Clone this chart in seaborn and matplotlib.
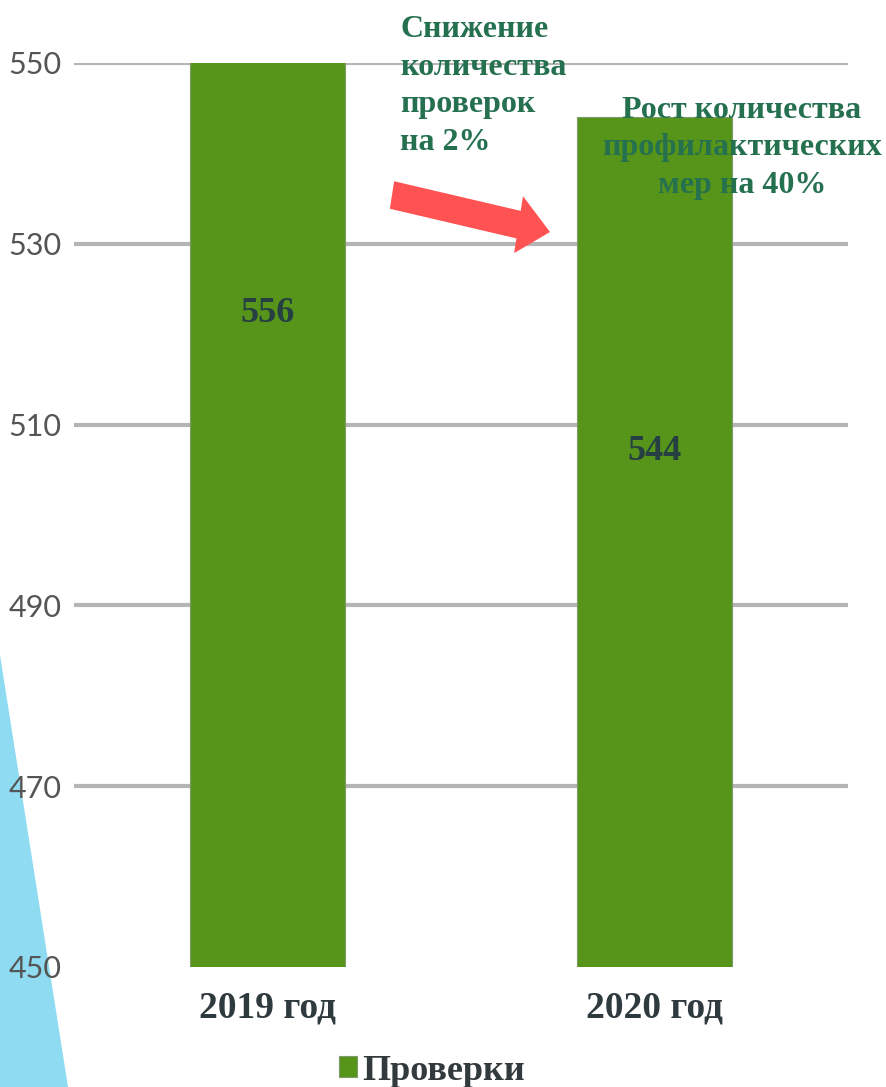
import matplotlib
matplotlib.use("Agg")
import matplotlib.pyplot as plt
from matplotlib.patches import Polygon, FancyArrow
import seaborn as sns
import pandas as pd

# ===============================
# Data
# ===============================
years = ["2019 год", "2020 год"]
checks = [556, 544]
label_y = [522.3, 507.0]
series_name = "Проверки"
y_ticks = [450, 470, 490, 510, 530, 550]

note_left = "Снижение\nколичества\nпроверок\nна 2%"
note_right = "Рост количества\nпрофилактических\nмер на 40%"

df = pd.DataFrame({"year": years, "checks": checks})

# ===============================
# Style
# ===============================
sns.set_style("white")
plt.rcParams['font.family'] = ['Lato', 'DejaVu Sans']

bar_green = "#56941a"
text_green = "#24704f"
serif = ['Liberation Serif', 'DejaVu Serif']

fig = plt.figure(figsize=(8.86, 10.87), dpi=100)
W, H = 886, 1087

# decorative light blue band at the bottom left (behind everything)
band = Polygon([(0 / W, 1 - 655 / H), (68 / W, 0), (0, 0)], closed=True,
               transform=fig.transFigure, facecolor="#8fdcf2", edgecolor="none", zorder=-5)
fig.patches.append(band)

ax = fig.add_axes([74 / W, 1 - 967 / H, (848 - 74) / W, (967 - 63) / H])
ax.set_zorder(1)
ax.patch.set_alpha(0)

sns.barplot(data=df, x="year", y="checks", color=bar_green, width=0.4,
            saturation=1, edgecolor="#7f9a6a", linewidth=0.8, label=series_name,
            ax=ax, zorder=3)
if ax.legend_ is not None:
    ax.legend_.remove()

ax.set_xlim(-0.5, 1.5)
ax.set_ylim(450, 550)
ax.set_yticks(y_ticks)
ax.yaxis.grid(True, color="#b5b5b5", linewidth=3)
ax.set_axisbelow(True)
ax.get_ygridlines()[0].set_visible(False)
sns.despine(ax=ax, left=True, bottom=True)
ax.set_xlabel("")
ax.set_ylabel("")

ax.tick_params(axis="y", length=0, pad=9, labelsize=22, labelcolor="#555555")
ax.tick_params(axis="x", length=0, pad=17)
for t in ax.get_xticklabels():
    t.set_fontfamily(serif)
    t.set_fontweight("bold")
    t.set_fontsize(27)
    t.set_color("#2f3a3e")

# value labels inside the bars
for i, v in enumerate(checks):
    ax.text(i, label_y[i], str(v), ha="center", va="center", fontsize=26,
            fontweight="bold", family=serif, color="#263f42", zorder=5)

# annotations
fig.text(400 / W, 1 - 86 / H, note_left, ha="left", va="center", fontsize=23,
         fontweight="bold", family=serif, color=text_green, linespacing=1.4, zorder=6)
fig.text(742 / W, 1 - 148 / H, note_right, ha="center", va="center", fontsize=23,
         fontweight="bold", family=serif, color=text_green, linespacing=1.4,
         multialignment="center", zorder=6)

# red arrow
x0, y0, x1, y1 = 392, 195, 550, 232
arrow = FancyArrow(x0 / W, 1 - y0 / H, (x1 - x0) / W, -(y1 - y0) / H,
                   width=28 / H, head_width=58 / H, head_length=32 / W,
                   length_includes_head=True, transform=fig.transFigure,
                   facecolor="#ff5252", edgecolor="none", zorder=7)
fig.patches.append(arrow)

# legend
handles, labels = ax.get_legend_handles_labels()
leg = fig.legend(handles[:1], [series_name], loc="center",
                 bbox_to_anchor=(432 / W, 1 - 1071 / H), frameon=False,
                 handlelength=0.5, handleheight=0.5, handletextpad=0.15,
                 prop={"family": serif, "weight": "bold", "size": 26})
for t in leg.get_texts():
    t.set_color("#333a3e")

fig.savefig("out.png", dpi=100)
